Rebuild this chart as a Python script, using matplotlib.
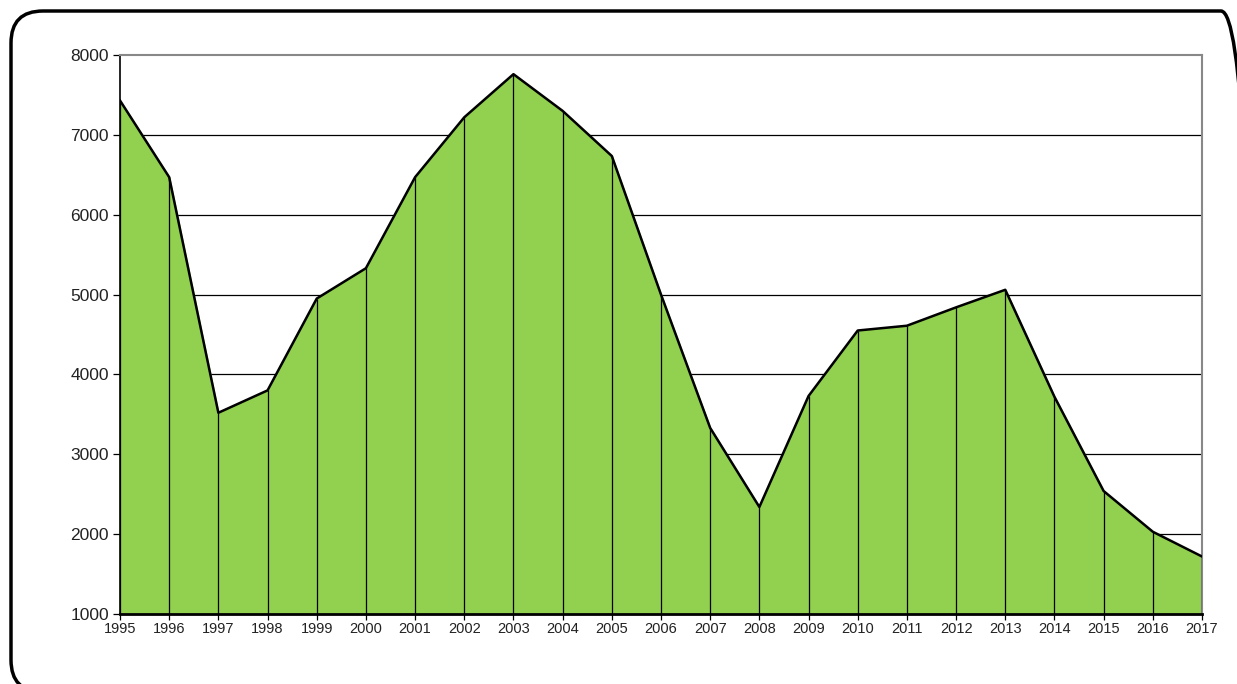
import matplotlib
matplotlib.use("Agg")
import matplotlib.pyplot as plt
from matplotlib.patches import FancyBboxPatch

years = list(range(1995, 2018))
values = [7430, 6470, 3520, 3800, 4950, 5330, 6470, 7220, 7760, 7300, 6735,
          5000, 3330, 2340, 3730, 4550, 4610, 4840, 5060, 3720, 2540, 2030, 1720]
y_ticks = [1000, 2000, 3000, 4000, 5000, 6000, 7000, 8000]

plt.rcParams['font.family'] = ['Liberation Sans', 'DejaVu Sans']

fig = plt.figure(figsize=(12.37, 6.84), dpi=100)

# rounded outer frame (in inches so the corners stay round)
frame = FancyBboxPatch((0.11, -0.08), 12.42, 6.81,
                       boxstyle="round,pad=0,rounding_size=0.32",
                       transform=fig.dpi_scale_trans, fill=False,
                       edgecolor='black', linewidth=2.5, clip_on=False)
fig.patches.append(frame)

ax = fig.add_axes([120 / 1237, 1 - 614 / 684, 1082 / 1237, 559 / 684])

# grid behind fill
for y in y_ticks[1:-1]:
    ax.axhline(y, color='black', linewidth=0.9, zorder=1)

ax.fill_between(years, values, 1000, color='#92d050', zorder=2)
ax.plot(years, values, color='black', linewidth=1.8, zorder=4)
ax.vlines(years, 1000, values, color='black', linewidth=0.9, zorder=3)

ax.set_xlim(1995, 2017)
ax.set_ylim(1000, 8000)
ax.set_xticks(years)
ax.set_xticklabels([str(y) for y in years], fontsize=10.5, color='#222222')
ax.set_yticks(y_ticks)
ax.set_yticklabels([str(y) for y in y_ticks], fontsize=12.5, color='#222222')
ax.tick_params(axis='y', length=5, width=0.9, pad=3)
ax.tick_params(axis='x', length=4, width=0.9, pad=2)

ax.spines['top'].set_color('#888888')
ax.spines['right'].set_color('#888888')
ax.spines['top'].set_linewidth(1.5)
ax.spines['right'].set_linewidth(1.5)
ax.spines['left'].set_linewidth(1.2)
ax.spines['bottom'].set_linewidth(2.0)

fig.savefig('out.png', dpi=100)
